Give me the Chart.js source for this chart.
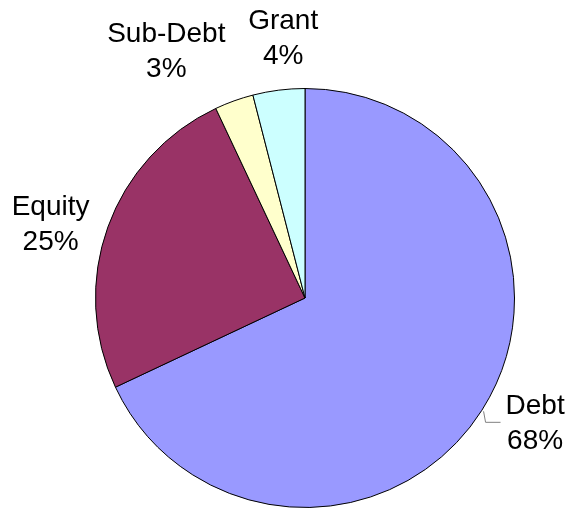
<!DOCTYPE html>
<html>
<head>
<meta charset="utf-8">
<title>Funding Sources</title>
<script src="https://cdn.jsdelivr.net/npm/chart.js@4.4.1/dist/chart.umd.min.js"></script>
<style>
    html, body { margin: 0; padding: 0; background: #ffffff; }
    #wrap { width: 571px; height: 511px; position: relative; }
</style>
</head>
<body>
<div id="wrap"><canvas id="funding-chart"></canvas></div>
<script>
// Funding mix, in percent
const categories = ['Debt', 'Equity', 'Sub-Debt', 'Grant'];
const shares = [68, 25, 3, 4];
const sliceColors = ['#9999ff', '#993366', '#ffffcc', '#ccffff'];

// Small per-label nudges away from the default radial spot
const labelNudge = [[9, -15], [-8, 15], [-50, 0], [11, 1]];

// Draws "Name / NN%" labels outside the pie, with a leader for the big slice
const outsideLabels = {
    id: 'outsideLabels',
    afterDatasetsDraw(chart) {
        const ctx = chart.ctx;
        const meta = chart.getDatasetMeta(0);
        const lineH = 35;
        ctx.save();
        ctx.font = '28px "Liberation Sans", Arial, sans-serif';
        ctx.fillStyle = '#000000';
        ctx.textAlign = 'center';
        ctx.textBaseline = 'middle';

        meta.data.forEach((arc, i) => {
            const { x, y, startAngle, endAngle, outerRadius } = arc.getProps(['x', 'y', 'startAngle', 'endAngle', 'outerRadius'], true);
            const mid = (startAngle + endAngle) / 2;
            const dist = outerRadius * 1.25;
            const cx = x + Math.cos(mid) * dist + labelNudge[i][0];
            const cy = y + Math.sin(mid) * dist + labelNudge[i][1];

            ctx.fillText(categories[i], cx, cy - lineH / 2);
            ctx.fillText(shares[i] + '%', cx, cy + lineH / 2);

            // leader line for the Debt label
            if (i === 0) {
                const ex = x + Math.cos(mid) * (outerRadius + 2);
                const ey = y + Math.sin(mid) * (outerRadius + 2);
                const textLeft = cx - ctx.measureText(categories[i]).width / 2;
                ctx.strokeStyle = '#808080';
                ctx.lineWidth = 1;
                ctx.beginPath();
                ctx.moveTo(ex, ey);
                ctx.lineTo(ex + 2, cy - 1);
                ctx.lineTo(textLeft - 5, cy - 1);
                ctx.stroke();
            }
        });
        ctx.restore();
    }
};

new Chart(document.getElementById('funding-chart'), {
    type: 'pie',
    data: {
        labels: categories,
        datasets: [{
            data: shares,
            backgroundColor: sliceColors,
            borderColor: '#000000',
            borderWidth: 1
        }]
    },
    options: {
        responsive: true,
        maintainAspectRatio: false,
        animation: false,
        layout: {
            padding: { top: 88, bottom: 3, left: 95, right: 56 }
        },
        plugins: {
            legend: { display: false },
            tooltip: { enabled: false }
        }
    },
    plugins: [outsideLabels]
});
</script>
</body>
</html>
